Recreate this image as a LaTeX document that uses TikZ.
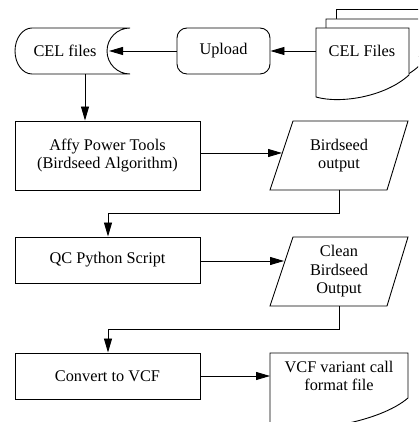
\documentclass[tikz,border=0pt]{standalone}
\usepackage{fontspec}
\setmainfont{Liberation Serif}
\usetikzlibrary{arrows.meta}
\begin{document}
\begin{tikzpicture}[x=1pt,y=1pt,line width=0.9pt,
  arr/.style={-{Triangle[length=14pt,width=8pt]}},
  lbl/.style={align=center,inner sep=0pt,font=\fontsize{16.3}{18.5}\selectfont},
  proc/.style={draw,rectangle,minimum width=185pt,inner sep=0pt,align=center,font=\fontsize{16.3}{18.5}\selectfont},
  doc/.style={draw,fill=white}]
\useasboundingbox (0,0) rectangle (418,422);
\clip (0,0) rectangle (418,422);
% CEL files (stored data)
\draw (130,394) -- (32,394) arc[start angle=90,end angle=270,x radius=17,y radius=23]
  -- (130,348) arc[start angle=270,end angle=90,radius=23];
\node[lbl] (cel) at (65,371) {CEL files};
\coordinate (celR) at (109,371);
\coordinate (celB) at (85,348);
% Upload
\node[draw,rounded corners=10pt,minimum width=93pt,minimum height=46pt,inner sep=0pt,
  font=\fontsize{16.3}{18.5}\selectfont] (up) at (223.5,371) {Upload};
% CEL Files stack
\draw[doc] (336,413) -- (440,413) -- (440,366) -- (336,366) -- cycle;
\draw[doc] (326,403) -- (419,403) -- (419,356) .. controls (395,334) and (350,327) .. (326,334) -- cycle;
\draw[doc] (316,394) -- (409,394) -- (409,347) .. controls (385,325) and (340,318) .. (316,325) -- cycle;
\node[lbl] (files) at (362,371) {CEL Files};
\coordinate (filesL) at (316,371);
% Affy
\node[proc,minimum height=69pt] (aff) at (107.5,266.5) {Affy Power Tools\\(Birdseed Algorithm)};
% Birdseed output
\draw (293,301) -- (408,301) -- (387,232) -- (270,232) -- cycle;
\node[lbl] (bo) at (339,266.5) {Birdseed\\output};
\coordinate (boL) at (282,269);
\coordinate (boB) at (339,232);
% QC
\node[proc,minimum height=46pt] (qc) at (107.5,162) {QC Python Script};
% Clean
\draw (293,185) -- (408,185) -- (387,116) -- (270,116) -- cycle;
\node[lbl] (cl) at (339,150.5) {Clean\\Birdseed\\Output};
\coordinate (clL) at (284,161);
\coordinate (clB) at (339,116);
% Convert
\node[proc,minimum height=46pt] (cv) at (107.5,46) {Convert to VCF};
% VCF doc
\draw[doc] (270,-20) -- (270,69) -- (408,69) -- (408,24) .. controls (380,0) and (310,-12) .. (270,-5);
\node[lbl] (vcf) at (339,46) {VCF variant call\\format file};
\coordinate (vcfL) at (270,46);
% connectors
\draw[arr] (filesL) -- (up.east);
\draw[arr] (up.west) -- (celR);
\draw[arr] (celB) -- (celB |- aff.north);
\draw[arr] (aff.east |- boL) -- (boL);
\draw[arr] (boB) -- (339,209) -- (108,209) -- (108,209 |- qc.north);
\draw[arr] (qc.east |- clL) -- (clL);
\draw[arr] (clB) -- (339,93) -- (108,93) -- (108,93 |- cv.north);
\draw[arr] (cv.east) -- (vcfL);
\end{tikzpicture}
\end{document}
